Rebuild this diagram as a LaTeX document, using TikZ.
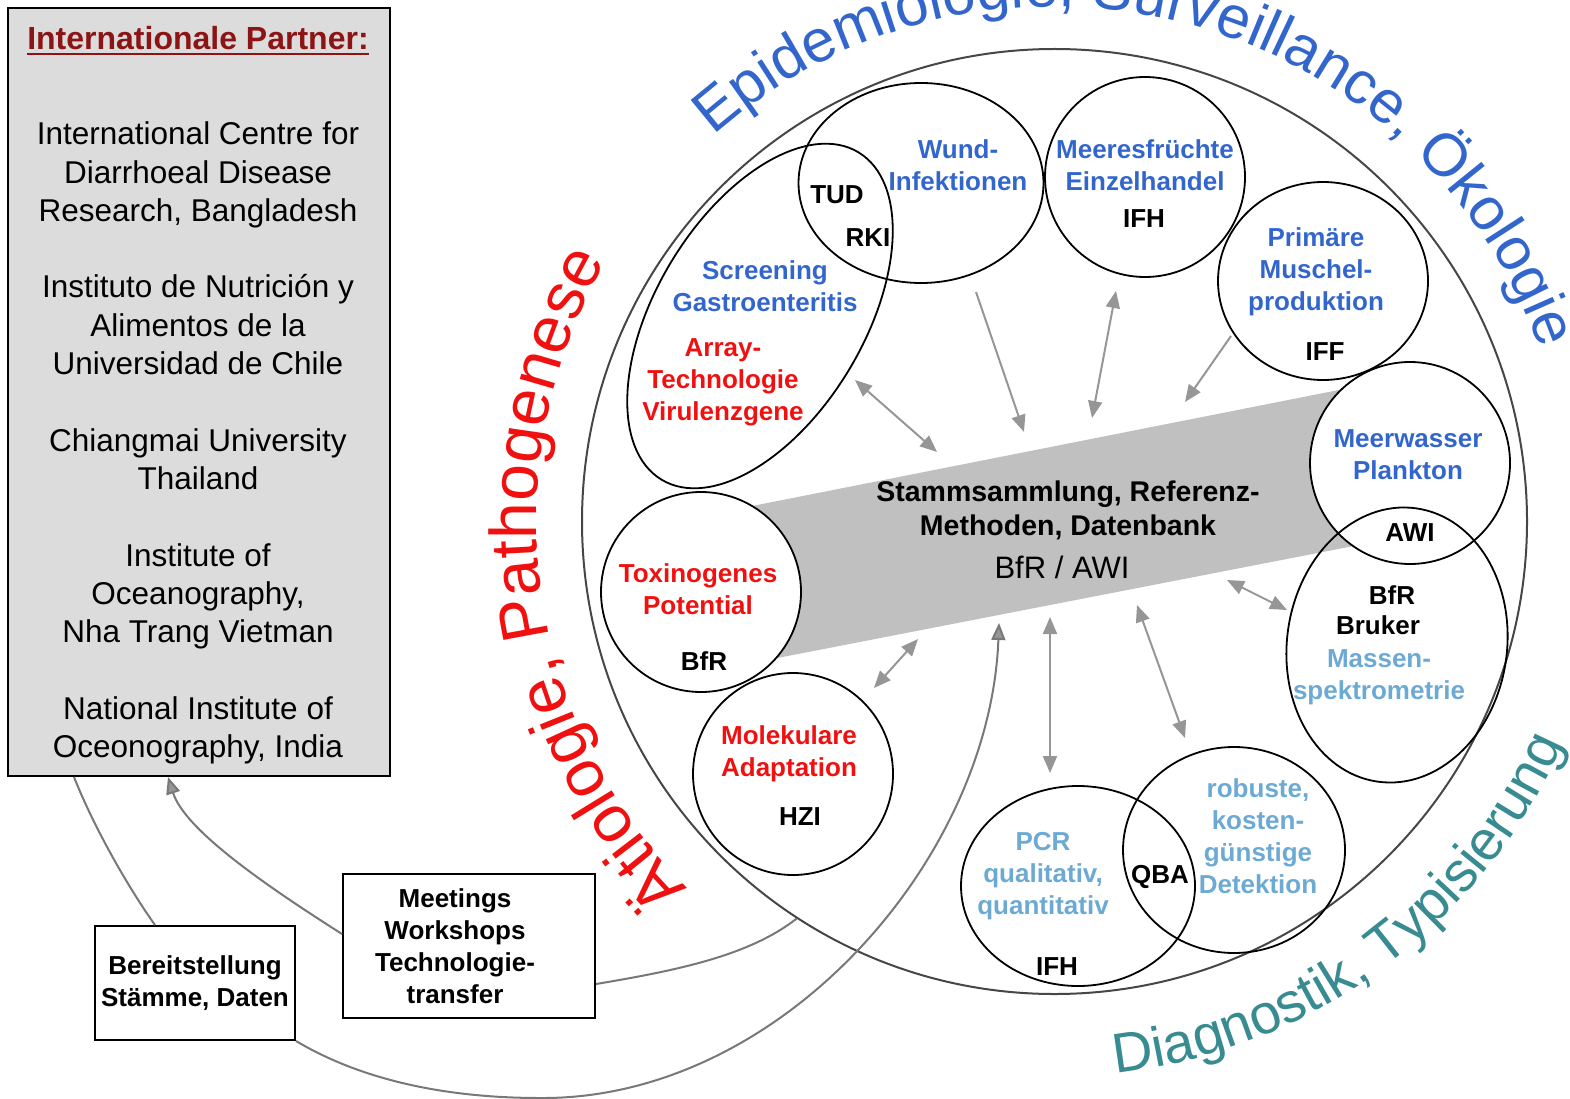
\documentclass[tikz,border=0pt]{standalone}
\usepackage{fontspec}
\setmainfont{Liberation Sans}
\usetikzlibrary{shapes.geometric,arrows.meta,calc,decorations.text}

\definecolor{cblue}{RGB}{51,102,204}
\definecolor{clblue}{RGB}{108,170,212}
\definecolor{cred}{RGB}{240,16,16}
\definecolor{cteal}{RGB}{56,140,145}
\definecolor{ctitle}{RGB}{140,20,20}
\definecolor{boxgray}{RGB}{220,220,220}
\definecolor{bandgray}{RGB}{192,192,192}
\definecolor{arrgray}{RGB}{150,150,150}
\definecolor{feedgray}{RGB}{120,120,120}
\definecolor{circgray}{RGB}{70,70,70}

\newcommand{\lblfont}{\fontsize{26}{32}\selectfont\bfseries}

\tikzset{
    cell/.style={ellipse, draw=black, line width=1.8pt, inner sep=0pt},
    cellfill/.style={cell, fill=white},
    infobox/.style={draw=black, line width=2pt, fill=white, inner sep=0pt, align=center},
    link/.style={draw=arrgray, line width=2pt, -{Triangle[length=17pt,width=14pt]}},
    linkboth/.style={draw=arrgray, line width=2pt, {Triangle[length=17pt,width=14pt]}-{Triangle[length=17pt,width=14pt]}},
    feed/.style={draw=feedgray, line width=2pt},
    feedarrow/.style={feed, -{Triangle[length=17pt,width=14pt,fill=arrgray]}},
    lbl/.style={align=center, inner sep=0pt, font=\lblfont},
    bluelbl/.style={lbl, text=cblue},
    redlbl/.style={lbl, text=cred},
    lbluelbl/.style={lbl, text=clblue},
    blacklbl/.style={lbl, text=black}
}

\begin{document}
\begin{tikzpicture}[x=1pt,y=-1pt]
	\useasboundingbox (0,0) rectangle (1570,1099);

	\node[draw=black, line width=2pt, fill=boxgray, minimum width=382, minimum height=768, inner sep=0pt] (partner) at (199,392) {};
	\node[inner sep=0pt, text=ctitle, font=\fontsize{32}{36}\selectfont\bfseries] (ptitle) at (198,38) {Internationale Partner:};
	\draw[ctitle, line width=2pt] ($(ptitle.south west)+(0,4)$) -- ($(ptitle.south east)+(0,4)$);
	\node[align=center, inner sep=0pt, font=\fontsize{31.5}{38.3}\selectfont] (plist) at (198,443) {International Centre for\\Diarrhoeal Disease\\Research, Bangladesh\\[38.3pt]
		Instituto de Nutrición y\\Alimentos de la\\Universidad de Chile\\[38.3pt]
		Chiangmai University\\Thailand\\[38.3pt]
		Institute of\\Oceanography,\\Nha Trang Vietman\\[38.3pt]
		National Institute of\\Oceonography, India};

	\node[infobox, minimum width=200, minimum height=114, font=\lblfont] (bbox) at (195,983) {Bereitstellung\\Stämme, Daten};
	\node[infobox, minimum width=252, minimum height=144] (mbox) at (469,946) {};
	\node[blacklbl] (mtxt) at (455,946) {Meetings\\Workshops\\Technologie-\\transfer};

	\coordinate (crvtip) at (999,623);
	\draw[feed] ($(bbox.north west)+(61,0)$) .. controls (130,890) and (95,830) .. ($(partner.south west)+(67,0)$);
	\draw[feedarrow] ($(mbox.north west)+(0,61)$) .. controls (265,885) and (185,830) .. ($(partner.south west)+(161,0)$);

	\fill[bandgray] (737,509) -- (1364,385) -- (1364,544) -- (762,661) -- cycle;

	\node[circle, draw=circgray, line width=2pt, minimum size=945, inner sep=0pt] (bigc) at (1054.5,521.5) {};
	\draw[feed] ($(mbox.south east)+(0,-35)$) .. controls (680,970) and (750,955) .. (bigc.237);
	\draw[feedarrow] (bbox.south east) .. controls (370,1085) and (460,1098) .. (540,1098)
		.. controls (780,1100) and (990,860) .. (crvtip);

	\node[cellfill, minimum width=200, minimum height=200] (toxc) at (701,592) {};
	\node[cellfill, minimum width=200, minimum height=202] (mwc) at (1410,463) {};
	\node[cell, rotate=59, minimum width=382, minimum height=208] (scrc) at (760,316) {};
	\node[cell, minimum width=245, minimum height=200] (wundc) at (921,183) {};
	\node[cell, minimum width=200, minimum height=200] (meerc) at (1145,177) {};
	\node[cell, minimum width=210, minimum height=198] (primc) at (1323,281) {};
	\node[cell, rotate=-8, minimum width=220, minimum height=276] (massc) at (1397,645) {};
	\node[cell, minimum width=200, minimum height=202] (molc) at (793,774) {};
	\node[cell, minimum width=234, minimum height=200] (pcrc) at (1078,886) {};
	\node[cell, minimum width=222, minimum height=206] (robc) at (1234,850) {};

	\coordinate (w1) at (976,292);   \coordinate (w2) at (1024,432);
	\coordinate (m1) at (1116,291);  \coordinate (m2) at (1092,418);
	\coordinate (p1) at (1231,336);  \coordinate (p2) at (1185,402);
	\coordinate (s1) at (855,380);   \coordinate (s2) at (937,452);
	\coordinate (k1) at (1227,580);  \coordinate (k2) at (1287,610);
	\coordinate (q1) at (1050,617);  \coordinate (q2) at (1050,773);
	\coordinate (r1) at (1137,605);  \coordinate (r2) at (1185,738);
	\coordinate (h1) at (918,639);   \coordinate (h2) at (874,688);
	\draw[link] (w1) -- (w2);
	\draw[linkboth] (m1) -- (m2);
	\draw[link] (p1) -- (p2);
	\draw[linkboth] (s1) -- (s2);
	\draw[linkboth] (k1) -- (k2);
	\draw[linkboth] (q1) -- (q2);
	\draw[linkboth] (r1) -- (r2);
	\draw[linkboth] (h1) -- (h2);

	\node[bluelbl] (wundl) at (958,165) {Wund-\\Infektionen};
	\node[blacklbl] (tud) at (837,195) {TUD};
	\node[blacklbl] (rki) at (868,238) {RKI};
	\node[bluelbl] (meerl) at (1145,165) {Meeresfrüchte\\Einzelhandel};
	\node[blacklbl] (ifha) at (1144,219) {IFH};
	\node[bluelbl] (priml) at (1316,272) {Primäre\\Muschel-\\produktion};
	\node[blacklbl] (iff) at (1325,352) {IFF};
	\node[bluelbl] (scrl) at (765,286) {Screening\\Gastroenteritis};
	\node[redlbl] (arrl) at (723,382) {Array-\\Technologie\\Virulenzgene};
	\node[bluelbl] (mwl) at (1408,455) {Meerwasser\\Plankton};
	\node[blacklbl] (awi) at (1410,533) {AWI};
	\node[blacklbl] (bfrb) at (1392,595) {BfR};
	\node[blacklbl] (bruker) at (1378,625) {Bruker};
	\node[lbluelbl] (massl) at (1379,677) {Massen-\\spektrometrie};
	\node[redlbl] (toxl) at (698,589) {Toxinogenes\\Potential};
	\node[blacklbl] (bfra) at (704,661) {BfR};
	\node[redlbl] (moll) at (789,754) {Molekulare\\Adaptation};
	\node[blacklbl] (hzi) at (800,817) {HZI};
	\node[lbluelbl] (pcrl) at (1043,876) {PCR\\qualitativ,\\quantitativ};
	\node[blacklbl] (ifhb) at (1057,967) {IFH};
	\node[blacklbl] (qba) at (1160,877) {QBA};
	\node[lbluelbl] (robl) at (1258,836) {robuste,\\kosten-\\günstige\\Detektion};
	\node[lbl, font=\fontsize{28.5}{34}\selectfont\bfseries] (bandl) at (1068,510) {Stammsammlung, Referenz-\\Methoden, Datenbank};
	\node[inner sep=0pt, font=\fontsize{31}{36}\selectfont] (bandw) at (1062,567) {BfR / AWI};

	\path[decorate, decoration={text along path, text color=cblue, text align=left,
		text={|\fontsize{60}{60}\selectfont|Epidemiologie, Surveillance, Ökologie}}]
		($(bigc.center)+(-131.5:515)$) arc[start angle=-131.5, end angle=-5, radius=515];
	\path[decorate, decoration={text along path, text color=cred, text align=left,
		text={|\fontsize{66}{66}\selectfont|Ätiologie, Pathogenese}}]
		($(bigc.center)+(-225:518)$) arc[start angle=-225, end angle=-140, radius=518];
	\path[decorate, decoration={text along path, text color=cteal, text align=left,
		text={|\fontsize{56}{56}\selectfont|Diagnostik, Typisierung}}]
		($(bigc.center)+(83.7:555)$) arc[start angle=83.7, end angle=10, radius=555];
\end{tikzpicture}
\end{document}
